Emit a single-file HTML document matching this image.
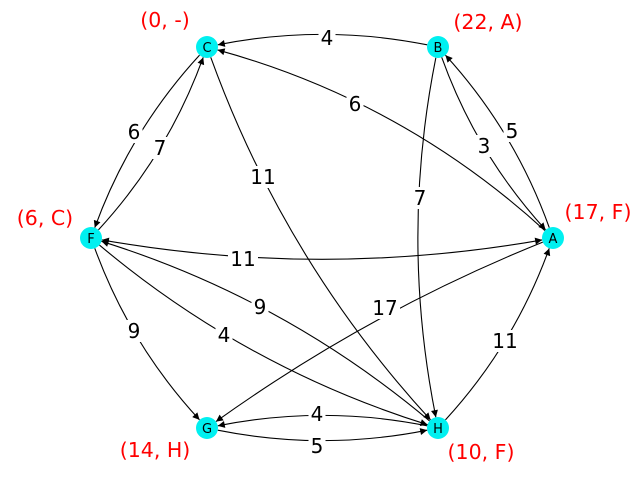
<!DOCTYPE html>
<html><head><meta charset="utf-8"><style>
html,body{margin:0;padding:0;background:#fff;}
svg{display:block;}
.el{font-family:"DejaVu Sans","Liberation Sans",sans-serif;font-size:20px;fill:#000;}
.nl{font-family:"DejaVu Sans","Liberation Sans",sans-serif;font-size:13px;fill:#000;}
.rl{font-family:"DejaVu Sans","Liberation Sans",sans-serif;font-size:20.5px;fill:#f00;}
</style></head><body>
<svg id="s" width="640" height="478" viewBox="0 0 640 478" xmlns="http://www.w3.org/2000/svg">
<defs>
<marker id="ah" viewBox="0 0 10 10" refX="10" refY="5" markerWidth="10" markerHeight="7" markerUnits="userSpaceOnUse" orient="auto">
<path d="M0,0 L10,5 L0,10 z" fill="#000"/></marker>
<marker id="as" viewBox="0 0 10 10" refX="0" refY="5" markerWidth="10" markerHeight="7" markerUnits="userSpaceOnUse" orient="auto">
<path d="M10,0 L0,5 L10,10 z" fill="#000"/></marker>
</defs>
<g id="edges"></g>
<g id="labels"></g>
<g id="nodes"></g>
</svg>
<script>
var N={C:[207,47],B:[438,47],A:[553,238],F:[91,238],G:[207,428],H:[438,428]};
var E=[
["B","C","4",327,38,0.1],
["A","C","6",355,104,0.12],
["C","F","6",134,132,0.1],
["F","C","7",160,148,0.1],
["C","H","11",263,177,0.1],
["B","A","3",484,146,0.1],
["A","B","5",512,131,0.1],
["B","H","7",420,198,0.1],
["F","A","11",243,259,0.088,1],
["H","F","9",260,307,0.1],
["F","H","4",224,335,0.1],
["F","G","9",134,331,0.1],
["A","G","17",385,308,0.06],
["H","A","11",505,341,0.1],
["H","G","4",317,414,0.1],
["G","H","5",317,446,0.1]
];
var ns="http://www.w3.org/2000/svg";
var eg=document.getElementById("edges"),lg=document.getElementById("labels"),ng=document.getElementById("nodes");
function el(t,a,p){var e=document.createElementNS(ns,t);for(var k in a)e.setAttribute(k,a[k]);p.appendChild(e);return e;}
E.forEach(function(e){
 var p0=N[e[0]],p2=N[e[1]],r=e[5];
 var dx=p2[0]-p0[0],dy=p2[1]-p0[1];
 var cx=(p0[0]+p2[0])/2+r*(-dy),cy=(p0[1]+p2[1])/2+r*dx;
 function sh(p){var ux=cx-p[0],uy=cy-p[1],l=Math.hypot(ux,uy);return [p[0]+11*ux/l,p[1]+11*uy/l];}
 var s=sh(p0),t=sh(p2);
 var a={d:"M"+s[0]+","+s[1]+" Q"+cx+","+cy+" "+t[0]+","+t[1],fill:"none",stroke:"#000","stroke-width":"1.1","marker-end":"url(#ah)"};
 if(e[6])a["marker-start"]="url(#as)";
 el("path",a,eg);
 var w=e[2].length*13+4;
 el("rect",{x:e[3]-w/2,y:e[4]-11,width:w,height:22,fill:"#fff"},lg);
 var tx=el("text",{x:e[3],y:e[4]+7,"text-anchor":"middle","class":"el"},lg);tx.textContent=e[2];
});
for(var k in N){
 el("circle",{cx:N[k][0],cy:N[k][1],r:11,fill:"#00f0f0"},ng);
 var t=el("text",{x:N[k][0],y:N[k][1]+5,"text-anchor":"middle","class":"nl"},ng);t.textContent=k;
}
[["(0, -)",165,27],["(22, A)",488,29],["(17, F)",598,219],["(6, C)",45,225],["(14, H)",155,457],["(10, F)",481,459]].forEach(function(r){
 var t=el("text",{x:r[1],y:r[2],"text-anchor":"middle","class":"rl"},ng);t.textContent=r[0];
});
</script>
</body></html>
